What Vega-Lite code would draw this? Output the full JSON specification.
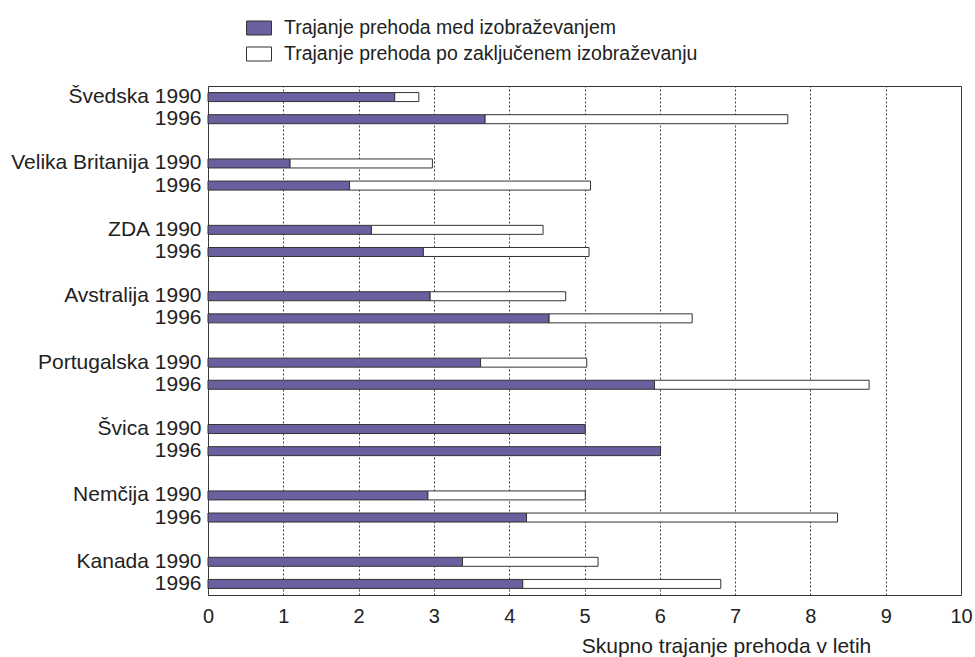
{
  "$schema": "https://vega.github.io/schema/vega-lite/v6.json",
  "autosize": {"type": "none"},
  "padding": {"left": 208, "top": 86, "right": 14, "bottom": 62},
  "width": 753,
  "height": 509,
  "background": "white",
  "data": {
    "values": [
      {"row": "Švedska 1990", "series": "Trajanje prehoda med izobraževanjem", "ord": 1, "v": 2.48},
      {"row": "Švedska 1990", "series": "Trajanje prehoda po zaključenem izobraževanju", "ord": 2, "v": 0.32},
      {"row": "Švedska 1996", "series": "Trajanje prehoda med izobraževanjem", "ord": 1, "v": 3.68},
      {"row": "Švedska 1996", "series": "Trajanje prehoda po zaključenem izobraževanju", "ord": 2, "v": 4.02},
      {"row": "Velika Britanija 1990", "series": "Trajanje prehoda med izobraževanjem", "ord": 1, "v": 1.09},
      {"row": "Velika Britanija 1990", "series": "Trajanje prehoda po zaključenem izobraževanju", "ord": 2, "v": 1.89},
      {"row": "Velika Britanija 1996", "series": "Trajanje prehoda med izobraževanjem", "ord": 1, "v": 1.88},
      {"row": "Velika Britanija 1996", "series": "Trajanje prehoda po zaključenem izobraževanju", "ord": 2, "v": 3.2},
      {"row": "ZDA 1990", "series": "Trajanje prehoda med izobraževanjem", "ord": 1, "v": 2.17},
      {"row": "ZDA 1990", "series": "Trajanje prehoda po zaključenem izobraževanju", "ord": 2, "v": 2.28},
      {"row": "ZDA 1996", "series": "Trajanje prehoda med izobraževanjem", "ord": 1, "v": 2.86},
      {"row": "ZDA 1996", "series": "Trajanje prehoda po zaključenem izobraževanju", "ord": 2, "v": 2.2},
      {"row": "Avstralija 1990", "series": "Trajanje prehoda med izobraževanjem", "ord": 1, "v": 2.95},
      {"row": "Avstralija 1990", "series": "Trajanje prehoda po zaključenem izobraževanju", "ord": 2, "v": 1.8},
      {"row": "Avstralija 1996", "series": "Trajanje prehoda med izobraževanjem", "ord": 1, "v": 4.53},
      {"row": "Avstralija 1996", "series": "Trajanje prehoda po zaključenem izobraževanju", "ord": 2, "v": 1.9},
      {"row": "Portugalska 1990", "series": "Trajanje prehoda med izobraževanjem", "ord": 1, "v": 3.62},
      {"row": "Portugalska 1990", "series": "Trajanje prehoda po zaključenem izobraževanju", "ord": 2, "v": 1.41},
      {"row": "Portugalska 1996", "series": "Trajanje prehoda med izobraževanjem", "ord": 1, "v": 5.93},
      {"row": "Portugalska 1996", "series": "Trajanje prehoda po zaključenem izobraževanju", "ord": 2, "v": 2.85},
      {"row": "Švica 1990", "series": "Trajanje prehoda med izobraževanjem", "ord": 1, "v": 5.01},
      {"row": "Švica 1996", "series": "Trajanje prehoda med izobraževanjem", "ord": 1, "v": 6.01},
      {"row": "Nemčija 1990", "series": "Trajanje prehoda med izobraževanjem", "ord": 1, "v": 2.92},
      {"row": "Nemčija 1990", "series": "Trajanje prehoda po zaključenem izobraževanju", "ord": 2, "v": 2.09},
      {"row": "Nemčija 1996", "series": "Trajanje prehoda med izobraževanjem", "ord": 1, "v": 4.23},
      {"row": "Nemčija 1996", "series": "Trajanje prehoda po zaključenem izobraževanju", "ord": 2, "v": 4.13},
      {"row": "Kanada 1990", "series": "Trajanje prehoda med izobraževanjem", "ord": 1, "v": 3.38},
      {"row": "Kanada 1990", "series": "Trajanje prehoda po zaključenem izobraževanju", "ord": 2, "v": 1.8},
      {"row": "Kanada 1996", "series": "Trajanje prehoda med izobraževanjem", "ord": 1, "v": 4.18},
      {"row": "Kanada 1996", "series": "Trajanje prehoda po zaključenem izobraževanju", "ord": 2, "v": 2.63}
    ]
  },
  "mark": {"type": "bar", "size": 9, "stroke": "#333333", "strokeWidth": 1},
  "encoding": {
    "y": {
      "field": "row",
      "type": "nominal",
      "scale": {
        "domain": ["Švedska 1990", "Švedska 1996", "_1", "Velika Britanija 1990", "Velika Britanija 1996", "_2", "ZDA 1990", "ZDA 1996", "_3", "Avstralija 1990", "Avstralija 1996", "_4", "Portugalska 1990", "Portugalska 1996", "_5", "Švica 1990", "Švica 1996", "_6", "Nemčija 1990", "Nemčija 1996", "_7", "Kanada 1990", "Kanada 1996"],
        "paddingInner": 0,
        "paddingOuter": 0
      },
      "axis": {
        "title": null,
        "domain": false,
        "ticks": false,
        "tickSize": 0,
        "grid": false,
        "labelPadding": 7,
        "labelLimit": 400,
        "labelFont": "Liberation Sans",
        "labelFontSize": 21,
        "labelColor": "#222222",
        "labelExpr": "slice(datum.value,0,1)=='_' ? '' : (slice(datum.value,-4)=='1996' ? '1996' : datum.value)"
      }
    },
    "x": {
      "field": "v",
      "type": "quantitative",
      "stack": "zero",
      "scale": {"domain": [0, 10], "nice": false},
      "axis": {
        "title": "Skupno trajanje prehoda v letih",
        "titleFont": "Liberation Sans",
        "titleFontSize": 21,
        "titleFontWeight": "normal",
        "titleColor": "#222222",
        "titleAlign": "center",
        "titleBaseline": "alphabetic",
        "titleX": 518,
        "titleY": 57,
        "values": [0, 1, 2, 3, 4, 5, 6, 7, 8, 9, 10],
        "domain": false,
        "ticks": false,
        "tickSize": 0,
        "labelPadding": 11,
        "labelFont": "Liberation Sans",
        "labelFontSize": 20,
        "labelColor": "#222222",
        "labelFlush": false,
        "grid": true,
        "gridColor": "#444444",
        "gridDash": [2, 2],
        "gridWidth": 1,
        "gridOpacity": 1
      }
    },
    "color": {
      "field": "series",
      "type": "nominal",
      "scale": {
        "domain": ["Trajanje prehoda med izobraževanjem", "Trajanje prehoda po zaključenem izobraževanju"],
        "range": ["#6B5F9F", "#FFFFFF"]
      },
      "legend": {
        "title": null,
        "orient": "none",
        "legendX": 38,
        "legendY": -71,
        "padding": 0,
        "symbolType": "M-1,-0.56H1V0.56H-1Z",
        "symbolSize": 625,
        "symbolStrokeColor": "#333333",
        "symbolStrokeWidth": 1,
        "symbolOpacity": 1,
        "labelFont": "Liberation Sans",
        "labelFontSize": 19.5,
        "labelColor": "#222222",
        "labelOffset": 12,
        "labelLimit": 600,
        "rowPadding": 3
      }
    },
    "order": {"field": "ord", "type": "quantitative"}
  },
  "config": {
    "view": {"stroke": "#333333", "strokeWidth": 1}
  }
}
